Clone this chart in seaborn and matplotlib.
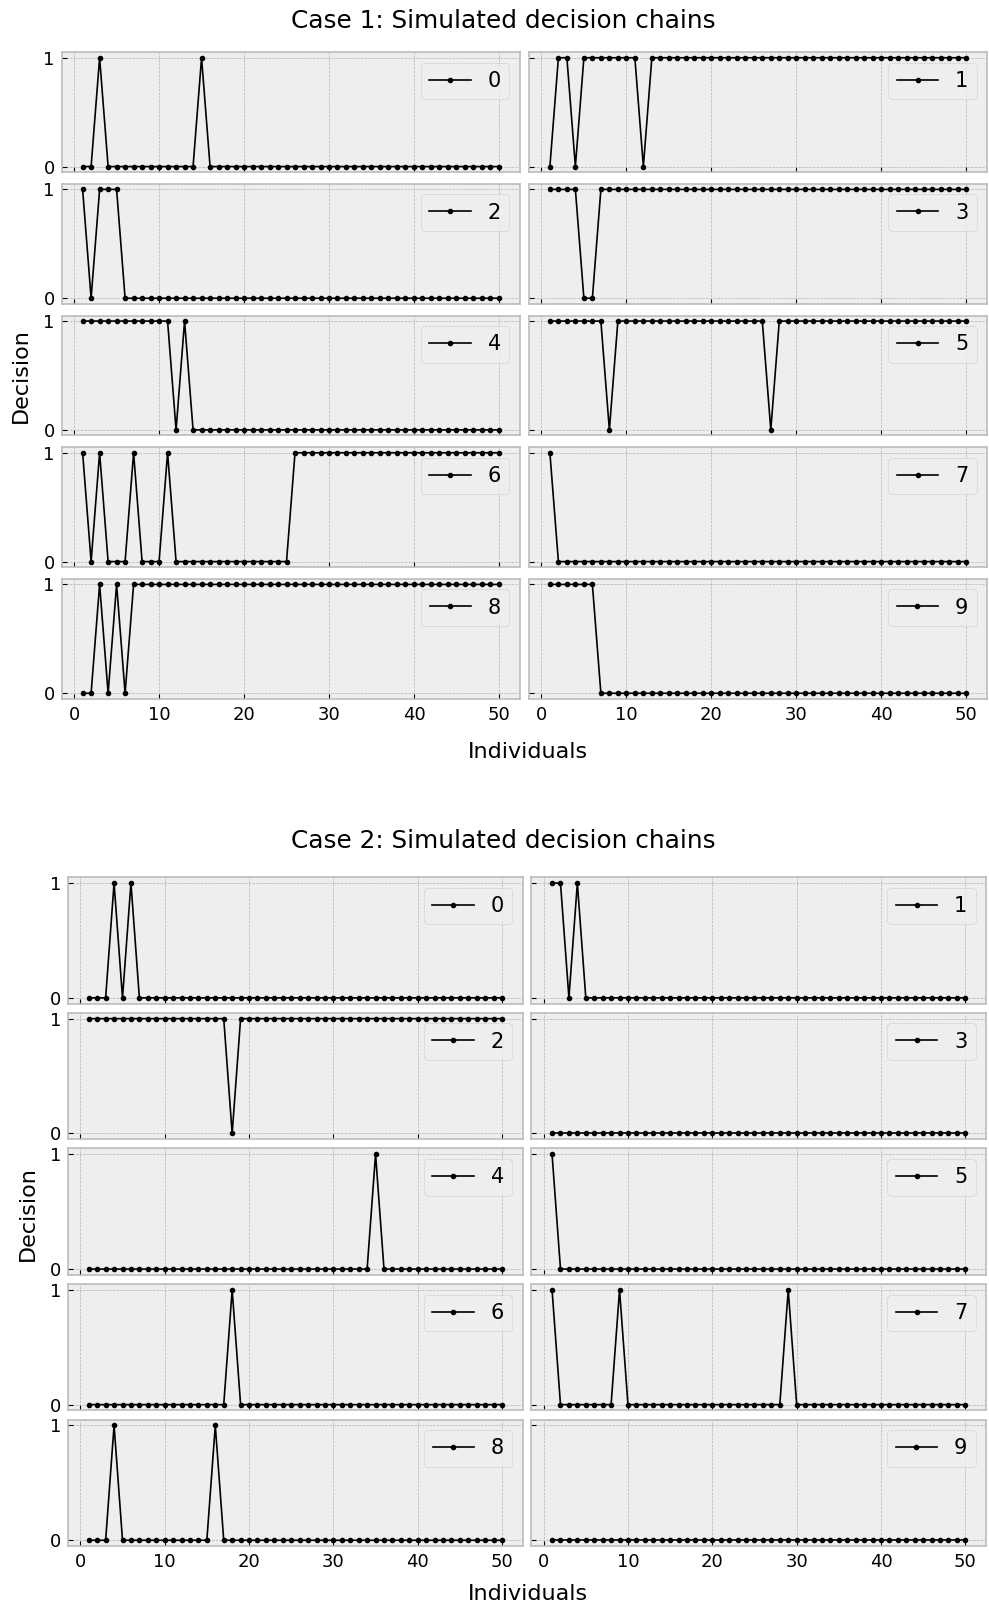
import matplotlib
matplotlib.use("Agg")
import matplotlib.pyplot as plt
import pandas as pd
import seaborn as sns

# Individuals along each decision chain
individuals = list(range(1, 51))
x_ticks = [0, 10, 20, 30, 40, 50]
y_ticks = [0, 1]

# ---- Case 1 decision chains (one list per chain, individuals 1..50) ----
case1_chain0 = [0, 0, 1, 0, 0, 0, 0, 0, 0, 0,
                0, 0, 0, 0, 1, 0, 0, 0, 0, 0,
                0, 0, 0, 0, 0, 0, 0, 0, 0, 0,
                0, 0, 0, 0, 0, 0, 0, 0, 0, 0,
                0, 0, 0, 0, 0, 0, 0, 0, 0, 0]
case1_chain1 = [0, 1, 1, 0, 1, 1, 1, 1, 1, 1,
                1, 0, 1, 1, 1, 1, 1, 1, 1, 1,
                1, 1, 1, 1, 1, 1, 1, 1, 1, 1,
                1, 1, 1, 1, 1, 1, 1, 1, 1, 1,
                1, 1, 1, 1, 1, 1, 1, 1, 1, 1]
case1_chain2 = [1, 0, 1, 1, 1, 0, 0, 0, 0, 0,
                0, 0, 0, 0, 0, 0, 0, 0, 0, 0,
                0, 0, 0, 0, 0, 0, 0, 0, 0, 0,
                0, 0, 0, 0, 0, 0, 0, 0, 0, 0,
                0, 0, 0, 0, 0, 0, 0, 0, 0, 0]
case1_chain3 = [1, 1, 1, 1, 0, 0, 1, 1, 1, 1,
                1, 1, 1, 1, 1, 1, 1, 1, 1, 1,
                1, 1, 1, 1, 1, 1, 1, 1, 1, 1,
                1, 1, 1, 1, 1, 1, 1, 1, 1, 1,
                1, 1, 1, 1, 1, 1, 1, 1, 1, 1]
case1_chain4 = [1, 1, 1, 1, 1, 1, 1, 1, 1, 1,
                1, 0, 1, 0, 0, 0, 0, 0, 0, 0,
                0, 0, 0, 0, 0, 0, 0, 0, 0, 0,
                0, 0, 0, 0, 0, 0, 0, 0, 0, 0,
                0, 0, 0, 0, 0, 0, 0, 0, 0, 0]
case1_chain5 = [1, 1, 1, 1, 1, 1, 1, 0, 1, 1,
                1, 1, 1, 1, 1, 1, 1, 1, 1, 1,
                1, 1, 1, 1, 1, 1, 0, 1, 1, 1,
                1, 1, 1, 1, 1, 1, 1, 1, 1, 1,
                1, 1, 1, 1, 1, 1, 1, 1, 1, 1]
case1_chain6 = [1, 0, 1, 0, 0, 0, 1, 0, 0, 0,
                1, 0, 0, 0, 0, 0, 0, 0, 0, 0,
                0, 0, 0, 0, 0, 1, 1, 1, 1, 1,
                1, 1, 1, 1, 1, 1, 1, 1, 1, 1,
                1, 1, 1, 1, 1, 1, 1, 1, 1, 1]
case1_chain7 = [1, 0, 0, 0, 0, 0, 0, 0, 0, 0,
                0, 0, 0, 0, 0, 0, 0, 0, 0, 0,
                0, 0, 0, 0, 0, 0, 0, 0, 0, 0,
                0, 0, 0, 0, 0, 0, 0, 0, 0, 0,
                0, 0, 0, 0, 0, 0, 0, 0, 0, 0]
case1_chain8 = [0, 0, 1, 0, 1, 0, 1, 1, 1, 1,
                1, 1, 1, 1, 1, 1, 1, 1, 1, 1,
                1, 1, 1, 1, 1, 1, 1, 1, 1, 1,
                1, 1, 1, 1, 1, 1, 1, 1, 1, 1,
                1, 1, 1, 1, 1, 1, 1, 1, 1, 1]
case1_chain9 = [1, 1, 1, 1, 1, 1, 0, 0, 0, 0,
                0, 0, 0, 0, 0, 0, 0, 0, 0, 0,
                0, 0, 0, 0, 0, 0, 0, 0, 0, 0,
                0, 0, 0, 0, 0, 0, 0, 0, 0, 0,
                0, 0, 0, 0, 0, 0, 0, 0, 0, 0]

# ---- Case 2 decision chains ----
case2_chain0 = [0, 0, 0, 1, 0, 1, 0, 0, 0, 0,
                0, 0, 0, 0, 0, 0, 0, 0, 0, 0,
                0, 0, 0, 0, 0, 0, 0, 0, 0, 0,
                0, 0, 0, 0, 0, 0, 0, 0, 0, 0,
                0, 0, 0, 0, 0, 0, 0, 0, 0, 0]
case2_chain1 = [1, 1, 0, 1, 0, 0, 0, 0, 0, 0,
                0, 0, 0, 0, 0, 0, 0, 0, 0, 0,
                0, 0, 0, 0, 0, 0, 0, 0, 0, 0,
                0, 0, 0, 0, 0, 0, 0, 0, 0, 0,
                0, 0, 0, 0, 0, 0, 0, 0, 0, 0]
case2_chain2 = [1, 1, 1, 1, 1, 1, 1, 1, 1, 1,
                1, 1, 1, 1, 1, 1, 1, 0, 1, 1,
                1, 1, 1, 1, 1, 1, 1, 1, 1, 1,
                1, 1, 1, 1, 1, 1, 1, 1, 1, 1,
                1, 1, 1, 1, 1, 1, 1, 1, 1, 1]
case2_chain3 = [0, 0, 0, 0, 0, 0, 0, 0, 0, 0,
                0, 0, 0, 0, 0, 0, 0, 0, 0, 0,
                0, 0, 0, 0, 0, 0, 0, 0, 0, 0,
                0, 0, 0, 0, 0, 0, 0, 0, 0, 0,
                0, 0, 0, 0, 0, 0, 0, 0, 0, 0]
case2_chain4 = [0, 0, 0, 0, 0, 0, 0, 0, 0, 0,
                0, 0, 0, 0, 0, 0, 0, 0, 0, 0,
                0, 0, 0, 0, 0, 0, 0, 0, 0, 0,
                0, 0, 0, 0, 1, 0, 0, 0, 0, 0,
                0, 0, 0, 0, 0, 0, 0, 0, 0, 0]
case2_chain5 = [1, 0, 0, 0, 0, 0, 0, 0, 0, 0,
                0, 0, 0, 0, 0, 0, 0, 0, 0, 0,
                0, 0, 0, 0, 0, 0, 0, 0, 0, 0,
                0, 0, 0, 0, 0, 0, 0, 0, 0, 0,
                0, 0, 0, 0, 0, 0, 0, 0, 0, 0]
case2_chain6 = [0, 0, 0, 0, 0, 0, 0, 0, 0, 0,
                0, 0, 0, 0, 0, 0, 0, 1, 0, 0,
                0, 0, 0, 0, 0, 0, 0, 0, 0, 0,
                0, 0, 0, 0, 0, 0, 0, 0, 0, 0,
                0, 0, 0, 0, 0, 0, 0, 0, 0, 0]
case2_chain7 = [1, 0, 0, 0, 0, 0, 0, 0, 1, 0,
                0, 0, 0, 0, 0, 0, 0, 0, 0, 0,
                0, 0, 0, 0, 0, 0, 0, 0, 1, 0,
                0, 0, 0, 0, 0, 0, 0, 0, 0, 0,
                0, 0, 0, 0, 0, 0, 0, 0, 0, 0]
case2_chain8 = [0, 0, 0, 1, 0, 0, 0, 0, 0, 0,
                0, 0, 0, 0, 0, 1, 0, 0, 0, 0,
                0, 0, 0, 0, 0, 0, 0, 0, 0, 0,
                0, 0, 0, 0, 0, 0, 0, 0, 0, 0,
                0, 0, 0, 0, 0, 0, 0, 0, 0, 0]
case2_chain9 = [0, 0, 0, 0, 0, 0, 0, 0, 0, 0,
                0, 0, 0, 0, 0, 0, 0, 0, 0, 0,
                0, 0, 0, 0, 0, 0, 0, 0, 0, 0,
                0, 0, 0, 0, 0, 0, 0, 0, 0, 0,
                0, 0, 0, 0, 0, 0, 0, 0, 0, 0]

case1_chains = [case1_chain0, case1_chain1, case1_chain2, case1_chain3, case1_chain4,
                case1_chain5, case1_chain6, case1_chain7, case1_chain8, case1_chain9]
case2_chains = [case2_chain0, case2_chain1, case2_chain2, case2_chain3, case2_chain4,
                case2_chain5, case2_chain6, case2_chain7, case2_chain8, case2_chain9]

plt.style.use("bmh")
plt.rcParams["font.family"] = ["DejaVu Sans"]
plt.rcParams["axes.linewidth"] = 1.2

W, H = 989, 1610
fig = plt.figure(figsize=(W / 100, H / 100), dpi=100)


def draw_case(chains, title, grid, title_xy, xlabel_xy, ylabel_xy):
    gs = fig.add_gridspec(5, 2, **grid)
    axes = gs.subplots(sharex=True, sharey=True)
    for i, ax in enumerate(axes.flat):
        df = pd.DataFrame({"Individuals": individuals, "Decision": chains[i]})
        sns.lineplot(data=df, x="Individuals", y="Decision", ax=ax,
                     color="black", linewidth=1.2, marker=".", markersize=6,
                     markeredgecolor="black", markeredgewidth=1.0, label=str(i))
        ax.legend(loc="upper right", fontsize=15)
        ax.set_xlabel("")
        ax.set_ylabel("")
        ax.set_xticks(x_ticks)
        ax.set_yticks(y_ticks)
        ax.tick_params(labelsize=13, pad=5)
    fig.text(title_xy[0] / W, 1 - title_xy[1] / H, title,
             ha="center", va="center", fontsize=17.8)
    fig.text(xlabel_xy[0] / W, 1 - xlabel_xy[1] / H, "Individuals",
             ha="center", va="center", fontsize=16)
    fig.text(ylabel_xy[0] / W, 1 - ylabel_xy[1] / H, "Decision",
             ha="center", va="center", rotation=90, fontsize=16)


draw_case(case1_chains, "Case 1: Simulated decision chains",
          dict(left=61.8 / W, right=0.998, top=1 - 52.3 / H, bottom=1 - 698.7 / H,
               hspace=0.10, wspace=0.0204),
          (503, 20.5), (527.5, 752), (20.5, 375.5))

draw_case(case2_chains, "Case 2: Simulated decision chains",
          dict(left=68.1 / W, right=0.997, top=1 - 877.3 / H, bottom=1 - 1546 / H,
               hspace=0.0736, wspace=0.019),
          (503, 841), (527.5, 1594), (27.7, 1214))

fig.savefig("out.png", dpi=100)
